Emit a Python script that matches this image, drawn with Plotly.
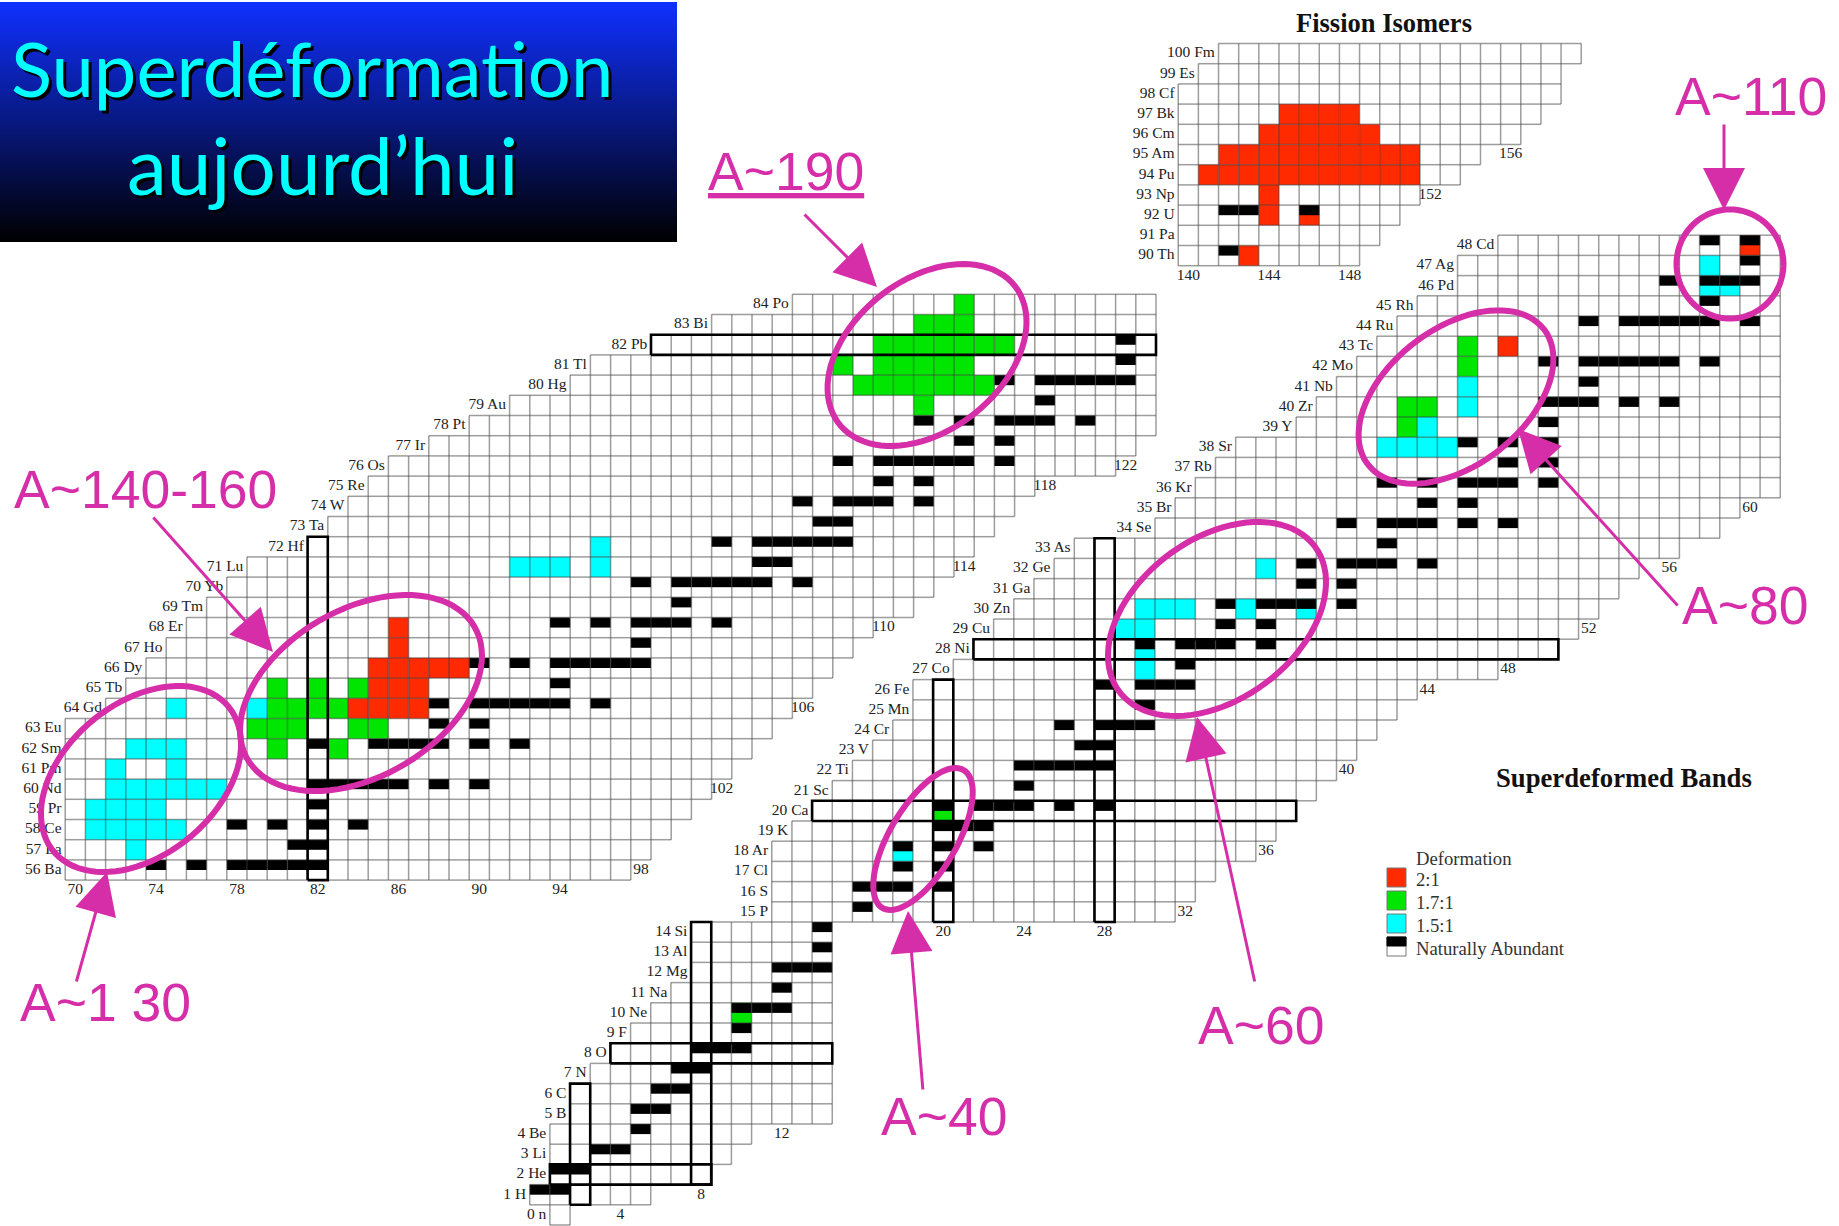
import numpy as np
import plotly.graph_objects as go

W, H = 1839, 1226
RED, GREEN, CYAN, BLACK = '#ff2a00', '#00e600', '#00ffff', '#000000'
MAGENTA = '#d62ea8'
SERIF = 'Liberation Serif'

# ---- heavy nuclei panel
main_z = [56, 57, 58, 59, 60, 61, 62, 63, 64, 65, 66, 67, 68, 69, 70, 71, 72, 73, 74, 75, 76, 77, 78, 79, 80, 81, 82, 83, 84]
main_sym = ['Ba', 'La', 'Ce', 'Pr', 'Nd', 'Pm', 'Sm', 'Eu', 'Gd', 'Tb', 'Dy', 'Ho', 'Er', 'Tm', 'Yb', 'Lu', 'Hf', 'Ta', 'W', 'Re', 'Os', 'Ir', 'Pt', 'Au', 'Hg', 'Tl', 'Pb', 'Bi', 'Po']
main_nmin = [70, 70, 70, 70, 70, 70, 70, 70, 72, 73, 74, 75, 76, 77, 78, 79, 82, 83, 84, 85, 86, 88, 90, 92, 95, 96, 99, 102, 106]
main_nmax = [97, 98, 99, 100, 101, 102, 103, 104, 105, 106, 107, 108, 109, 111, 112, 113, 114, 115, 116, 117, 121, 122, 123, 123, 123, 123, 123, 123, 123]
main_ticks = [(70, 55), (74, 55), (78, 55), (82, 55), (86, 55), (90, 55), (94, 55), (98, 56), (102, 60), (106, 64), (110, 68), (114, 71), (118, 75), (122, 76)]
main_boxes = [(82, 82, 56, 72), (99, 123, 82, 82)]
# runs are (Z, first N, last N)
main_red = [(64, 84, 87), (65, 85, 87), (66, 85, 89), (67, 86, 86), (68, 86, 86)]
main_green = [(62, 80, 80), (62, 83, 83), (63, 79, 81), (63, 84, 85), (64, 80, 83), (65, 80, 80), (65, 82, 82), (65, 84, 84),
              (79, 112, 112), (80, 109, 115), (81, 108, 108), (81, 110, 114), (82, 110, 116), (83, 112, 114), (84, 114, 114)]
main_cyan = [(57, 73, 73), (58, 71, 75), (59, 71, 74), (60, 72, 77), (61, 72, 72), (61, 75, 75), (62, 73, 75), (64, 75, 75),
             (64, 79, 79), (71, 92, 94), (71, 96, 96), (72, 96, 96)]
main_black = [(56, 74, 74), (56, 76, 76), (56, 78, 82), (57, 81, 82), (58, 78, 78), (58, 80, 80), (58, 82, 82), (58, 84, 84),
              (59, 82, 82), (60, 82, 86), (60, 88, 88), (60, 90, 90), (62, 82, 82), (62, 85, 88), (62, 90, 90), (62, 92, 92),
              (63, 88, 88), (63, 90, 90), (64, 88, 88), (64, 90, 94), (64, 96, 96), (65, 94, 94), (66, 90, 90), (66, 92, 92),
              (66, 94, 98), (67, 98, 98), (68, 94, 94), (68, 96, 96), (68, 98, 100), (68, 102, 102), (69, 100, 100),
              (70, 98, 98), (70, 100, 104), (70, 106, 106), (71, 104, 105), (72, 102, 102), (72, 104, 108), (73, 107, 108),
              (74, 106, 106), (74, 108, 110), (74, 112, 112), (75, 110, 110), (75, 112, 112), (76, 108, 108), (76, 110, 114),
              (76, 116, 116), (77, 114, 114), (77, 116, 116), (78, 112, 112), (78, 114, 114), (78, 116, 118), (78, 120, 120),
              (79, 118, 118), (80, 116, 116), (80, 118, 122), (81, 122, 122), (82, 122, 122)]

# ---- light and medium nuclei panel
low_z = list(range(0, 49))
low_sym = ['n', 'H', 'He', 'Li', 'Be', 'B', 'C', 'N', 'O', 'F', 'Ne', 'Na', 'Mg', 'Al', 'Si', 'P', 'S', 'Cl', 'Ar', 'K', 'Ca', 'Sc', 'Ti', 'V', 'Cr',
           'Mn', 'Fe', 'Co', 'Ni', 'Cu', 'Zn', 'Ga', 'Ge', 'As', 'Se', 'Br', 'Kr', 'Rb', 'Sr', 'Y', 'Zr', 'Nb', 'Mo', 'Tc', 'Ru', 'Rh', 'Pd', 'Ag', 'Cd']
low_nmin = [1, 0, 1, 1, 1, 2, 2, 3, 4, 5, 6, 7, 8, 8, 8, 12, 12, 12, 12, 13, 14, 15, 16, 17, 18, 19, 19, 21, 22, 23, 24, 25, 26, 27, 31, 32, 33, 34, 35, 38, 39, 40, 41, 42, 43, 44, 46, 46, 48]
low_nmax = [1, 5, 8, 9, 10, 14, 14, 14, 14, 14, 14, 14, 14, 14, 14, 31, 32, 33, 35, 36, 37, 38, 39, 40, 41, 42, 43, 47, 50, 51, 52, 53, 54, 56, 58, 59, 61, 61, 61, 61, 61, 61, 61, 61, 61, 61, 61, 61, 61]
low_ticks = [(4, 0), (8, 1), (12, 4), (20, 14), (24, 14), (28, 14), (32, 15), (36, 18), (40, 22), (44, 26), (48, 27), (52, 29), (56, 32), (60, 35)]
low_boxes = [(2, 2, 1, 6), (1, 8, 2, 2), (8, 8, 2, 14), (4, 14, 8, 8), (20, 20, 15, 26), (28, 28, 15, 33), (14, 37, 20, 20), (22, 50, 28, 28)]
low_red = [(43, 48, 48), (48, 60, 60)]
low_green = [(10, 10, 10), (20, 20, 20), (39, 43, 43), (40, 43, 44), (42, 46, 46), (43, 46, 46)]
low_cyan = [(18, 18, 18), (27, 30, 30), (28, 30, 30), (29, 29, 30), (30, 30, 32), (30, 35, 35), (30, 38, 38), (32, 36, 36),
            (38, 42, 45), (39, 44, 44), (40, 46, 46), (41, 46, 46), (46, 58, 59), (47, 58, 58)]
low_black = [(1, 0, 1), (2, 1, 2), (3, 3, 4), (4, 5, 5), (5, 5, 6), (6, 6, 7), (7, 7, 8), (8, 8, 10), (9, 10, 10), (10, 10, 12),
             (11, 12, 12), (12, 12, 14), (13, 14, 14), (14, 14, 14), (15, 16, 16), (16, 16, 18), (16, 20, 20), (17, 18, 18),
             (17, 20, 20), (18, 18, 18), (18, 20, 20), (18, 22, 22), (19, 20, 22), (20, 20, 20), (20, 22, 24), (20, 26, 26),
             (20, 28, 28), (21, 24, 24), (22, 24, 28), (23, 27, 28), (24, 26, 26), (24, 28, 30), (25, 30, 30), (26, 28, 28),
             (26, 30, 32), (27, 32, 32), (28, 30, 30), (28, 32, 34), (28, 36, 36), (29, 34, 34), (29, 36, 36), (30, 34, 34),
             (30, 36, 38), (30, 40, 40), (31, 38, 38), (31, 40, 40), (32, 38, 38), (32, 40, 42), (32, 44, 44), (33, 42, 42),
             (34, 40, 40), (34, 42, 44), (34, 46, 46), (34, 48, 48), (35, 44, 44), (35, 46, 46), (36, 42, 42), (36, 44, 44),
             (36, 46, 48), (36, 50, 50), (37, 48, 48), (37, 50, 50), (38, 46, 46), (38, 48, 48), (38, 50, 50), (39, 50, 50),
             (40, 50, 52), (40, 54, 54), (40, 56, 56), (41, 52, 52), (42, 50, 50), (42, 52, 56), (42, 58, 58), (44, 52, 52),
             (44, 54, 58), (44, 60, 60), (45, 58, 58), (46, 56, 56), (46, 58, 60), (47, 60, 60), (48, 58, 58), (48, 60, 60)]

# ---- fission isomers panel
fis_z = [90, 91, 92, 93, 94, 95, 96, 97, 98, 99, 100]
fis_sym = ['Th', 'Pa', 'U', 'Np', 'Pu', 'Am', 'Cm', 'Bk', 'Cf', 'Es', 'Fm']
fis_nmin = [140, 140, 140, 140, 140, 140, 140, 140, 140, 141, 142]
fis_nmax = [148, 149, 150, 151, 153, 154, 156, 157, 158, 158, 159]
fis_ticks = [(140, 89), (144, 89), (148, 89), (152, 93), (156, 95)]
fis_red = [(90, 143, 143), (92, 144, 144), (92, 146, 146), (93, 144, 144), (94, 141, 151), (95, 142, 151), (96, 144, 149), (97, 145, 148)]
fis_black = [(90, 142, 142), (92, 142, 143), (92, 146, 146)]

# ---- overlay
legend_names = ['2:1', '1.7:1', '1.5:1', 'Naturally Abundant']
legend_colors = [RED, GREEN, CYAN, None]
tags = ['A~190', 'A~110', 'A~140-160', 'A~1 30', 'A~40', 'A~60', 'A~80']
tag_x = [786, 1751, 145, 105, 944, 1261, 1745]
tag_y = [171, 96, 489, 1002, 1116, 1025, 605]
# arrow tail and tip
arrows = [(803, 213, 877, 287), (1724, 123, 1724, 210), (152, 516, 273, 652), (76, 983, 107, 872),
          (923, 1091, 908, 911), (1255, 983, 1197, 717), (1679, 607, 1518, 429)]
# centre x, centre y, half axes, tilt in degrees
ellipses = [(141, 779, 113.5, 76, 39.5), (361, 693, 131.4, 83.5, 30.4), (927, 355, 111.7, 75.4, 38.1),
            (923, 839, 80, 33.3, 59.5), (1217, 619, 121.8, 80.4, 36.4), (1456, 397, 111, 68.4, 37.5),
            (1730, 264, 54.5, 53.5, 90)]


def expand(runs):
    ns, zs = [], []
    for z, n0, n1 in runs:
        for n in range(n0, n1 + 1):
            ns.append(n)
            zs.append(z)
    return ns, zs


def grid_xy(zs, nmin, nmax):
    edges = set()
    for z, a, b in zip(zs, nmin, nmax):
        for n in range(a, b + 1):
            l, r, lo, hi = n - .5, n + .5, z - .5, z + .5
            edges.update([(l, lo, r, lo), (l, hi, r, hi), (l, lo, l, hi), (r, lo, r, hi)])
    x, y = [], []
    for x0, y0, x1, y1 in sorted(edges):
        x += [x0, x1, None]
        y += [y0, y1, None]
    return x, y


def box_xy(boxes):
    x, y = [], []
    for n0, n1, z0, z1 in boxes:
        l, r, lo, hi = n0 - .5, n1 + .5, z0 - .5, z1 + .5
        x += [l, r, r, l, l, None]
        y += [lo, lo, hi, hi, lo, None]
    return x, y


def add_panel(fig, sub, zs, sym, nmin, nmax, ticks, boxes, colored, black):
    xa, ya = sub
    for runs, color in colored:
        ns, rows = expand(runs)
        fig.add_trace(go.Bar(x=ns, y=[1] * len(ns), base=[r - .5 for r in rows], width=1, marker=dict(color=color, line_width=0),
                             xaxis=xa, yaxis=ya))
    gx, gy = grid_xy(zs, nmin, nmax)
    fig.add_trace(go.Scatter(x=gx, y=gy, mode='lines', line=dict(color='rgba(60,60,60,0.5)', width=1.5), xaxis=xa, yaxis=ya))
    ns, rows = expand(black)
    fig.add_trace(go.Bar(x=ns, y=[.5] * len(ns), base=rows, width=1, marker=dict(color=BLACK, line_width=0), xaxis=xa, yaxis=ya))
    if boxes:
        bx, by = box_xy(boxes)
        fig.add_trace(go.Scatter(x=bx, y=by, mode='lines', line=dict(color=BLACK, width=2.6), xaxis=xa, yaxis=ya))
    fig.add_trace(go.Scatter(x=[a - .68 for a in nmin], y=zs, mode='text', text=[f'{z} {s}' for z, s in zip(zs, sym)],
                             textposition='middle left', textfont=dict(family=SERIF, size=15.5, color='#222222'), xaxis=xa, yaxis=ya))
    fig.add_trace(go.Scatter(x=[t[0] for t in ticks], y=[t[1] for t in ticks], mode='text', text=[str(t[0]) for t in ticks],
                             textposition='middle center', textfont=dict(family=SERIF, size=15.5, color='#222222'), xaxis=xa, yaxis=ya))


fig = go.Figure()
add_panel(fig, ('x', 'y'), main_z, main_sym, main_nmin, main_nmax, main_ticks, main_boxes,
          [(main_red, RED), (main_green, GREEN), (main_cyan, CYAN)], main_black)
add_panel(fig, ('x2', 'y2'), low_z, low_sym, low_nmin, low_nmax, low_ticks, low_boxes,
          [(low_red, RED), (low_green, GREEN), (low_cyan, CYAN)], low_black)
add_panel(fig, ('x3', 'y3'), fis_z, fis_sym, fis_nmin, fis_nmax, fis_ticks, [], [(fis_red, RED)], fis_black)

# title banner
band = np.linspace(2, 242, 121)
fig.add_trace(go.Heatmap(x=[0, 677], y=band, z=[[v] for v in band[:-1]], showscale=False, xaxis='x4', yaxis='y4',
                         colorscale=[[0, 'rgb(16,48,255)'], [1, 'rgb(0,0,0)']]))

noaxis = dict(visible=False, fixedrange=True, domain=[0, 1], anchor='free', position=0)
layout = dict(
    width=W, height=H, margin=dict(l=0, r=0, t=0, b=0, pad=0), showlegend=False, barmode='overlay',
    paper_bgcolor='white', plot_bgcolor='rgba(0,0,0,0)', hovermode=False,
    xaxis=dict(range=[70 + (0 - 75.3) / 20.2, 70 + (W - 75.3) / 20.2], **noaxis),
    yaxis=dict(range=[56 + (870 - H) / 20.2, 56 + 870 / 20.2], **noaxis),
    xaxis2=dict(range=[(0 - 539.8) / 20.17, (W - 539.8) / 20.17], **noaxis),
    yaxis2=dict(range=[(1214.9 - H) / 20.2, 1214.9 / 20.2], **noaxis),
    xaxis3=dict(range=[140 + (0 - 1188.3) / 20.15, 140 + (W - 1188.3) / 20.15], **noaxis),
    yaxis3=dict(range=[90 + (255.6 - H) / 20.2, 90 + 255.6 / 20.2], **noaxis),
    xaxis4=dict(range=[0, W], **noaxis),
    yaxis4=dict(range=[H, 0], **noaxis),
)
fig.update_layout(**layout)

shapes = []
for cx, cy, a, b, tilt in ellipses:
    t = np.linspace(0, 2 * np.pi, 90)
    th = np.radians(tilt)
    px = cx + a * np.cos(t) * np.cos(th) - b * np.sin(t) * np.sin(th)
    py = cy - a * np.cos(t) * np.sin(th) - b * np.sin(t) * np.cos(th)
    path = 'M ' + ' L '.join(f'{u:.1f},{v:.1f}' for u, v in zip(px, py)) + ' Z'
    shapes.append(dict(type='path', path=path, xref='x4', yref='y4', line=dict(color=MAGENTA, width=6), layer='above'))

# legend swatches
for i, color in enumerate(legend_colors):
    top = 868 + 23 * i
    shapes.append(dict(type='rect', x0=1387, x1=1406, y0=top, y1=top + 19, xref='x4', yref='y4', fillcolor=color or 'white',
                       line=dict(color='#777777', width=1), layer='above'))
    if color is None:
        shapes.append(dict(type='rect', x0=1387, x1=1406, y0=top, y1=top + 9, xref='x4', yref='y4', fillcolor=BLACK,
                           line=dict(color=BLACK, width=1), layer='above'))
fig.update_layout(shapes=shapes)


def note(text, x, y, size, color, family='Liberation Sans', anchor='center', **kw):
    fig.add_annotation(text=text, x=x, y=y, xref='x4', yref='y4', showarrow=False, xanchor=anchor, yanchor='middle',
                       font=dict(family=family, size=size, color=color, **kw))


for x0, y0, x1, y1 in arrows:
    fig.add_annotation(x=x1, y=y1, ax=x0, ay=y0, xref='x4', yref='y4', axref='x4', ayref='y4', text='', showarrow=True,
                       arrowhead=2, arrowsize=2.8, arrowwidth=3, arrowcolor=MAGENTA)

for i, (tag, x, y) in enumerate(zip(tags, tag_x, tag_y)):
    if i == 0:
        note(tag, x, y, 53.5, MAGENTA, lineposition='under')
    else:
        note(tag, x, y, 53.5, MAGENTA)

for text, x, y, size in [('Superdéformation', 312, 67, 76), ('aujourd’hui', 322, 164, 80)]:
    note(text, x + 3, y + 3, size, '#000000', family='Lato')
    note(text, x, y, size, '#00ffff', family='Lato')

note('<b>Fission Isomers</b>', 1384, 23, 26.5, '#111111', family=SERIF)
note('<b>Superdeformed Bands</b>', 1624, 778, 26.7, '#111111', family=SERIF)
note('Deformation', 1414, 858, 18.7, '#333333', family=SERIF, anchor='left')
for i, name in enumerate(legend_names):
    note(name, 1414, 879 + 23 * i, 18.7, '#333333', family=SERIF, anchor='left')

fig.write_html('out.html', config={'displayModeBar': False}, post_script="document.body.style.margin='0';")
